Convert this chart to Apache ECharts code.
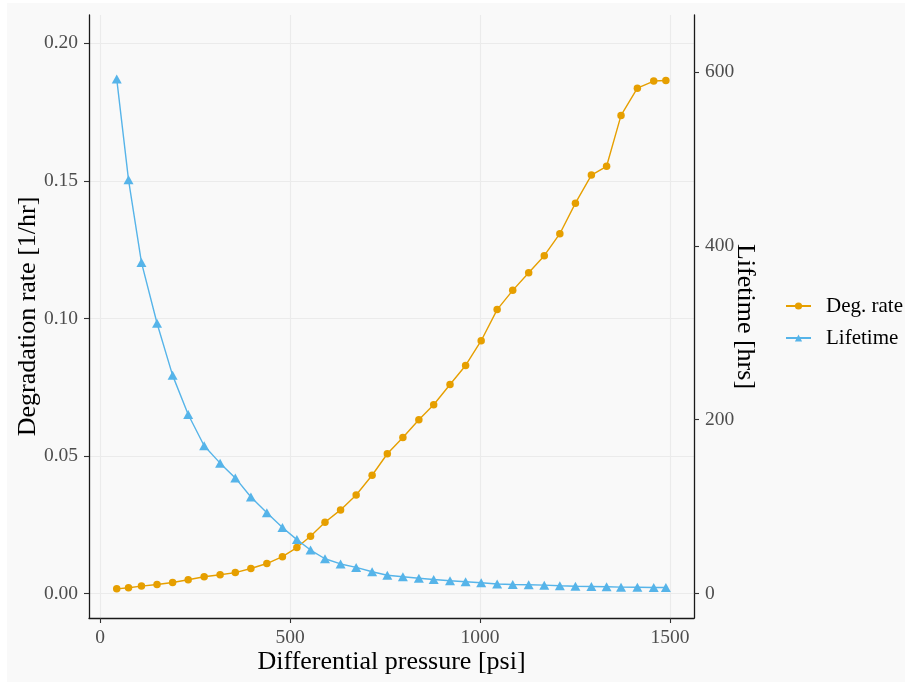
<!DOCTYPE html>
<html>
<head>
<meta charset="utf-8">
<script src="https://cdn.jsdelivr.net/npm/echarts@6/dist/echarts.min.js"></script>
<style>
  html, body { margin: 0; padding: 0; background: #ffffff; }
  #chart { position: absolute; left: 7px; top: 3px; width: 898px; height: 679px; }
</style>
</head>
<body>
<div id="chart"></div>
<script>
// Differential pressure [psi] at each measurement
const pressure = [44, 75, 109, 150, 191, 232, 274, 316, 356, 397, 439, 480, 518, 554, 592,
  633, 674, 716, 756, 797, 839, 878, 921, 962, 1003, 1045, 1086, 1128, 1169, 1210,
  1251, 1293, 1333, 1371, 1414, 1457, 1489];

// Degradation rate [1/hr]
const degRate = [0.0017, 0.0021, 0.0027, 0.0033, 0.0040, 0.0050, 0.0061, 0.0068, 0.0076,
  0.0091, 0.0109, 0.0134, 0.0167, 0.0208, 0.0259, 0.0304, 0.0358, 0.0430, 0.0508,
  0.0567, 0.0632, 0.0686, 0.0760, 0.0829, 0.0919, 0.1032, 0.1102, 0.1166, 0.1228,
  0.1308, 0.1419, 0.1521, 0.1553, 0.1738, 0.1837, 0.1863, 0.1865];

// Lifetime [hrs]
const lifetime = [592, 476, 381, 311, 251, 206, 170, 150, 133, 111, 93, 76, 62, 50, 40,
  34, 30, 25, 21, 19.2, 17.6, 16.1, 14.6, 13.5, 12.3, 10.9, 10.4, 10.0, 9.6, 8.9,
  8.4, 8.1, 7.8, 7.3, 7.2, 6.9, 6.9];

// Tick positions
const pressureTicks = [0, 500, 1000, 1500];
const rateTicks = [0, 0.05, 0.10, 0.15, 0.20];
const lifeTicks = [0, 200, 400, 600];

const seriesNames = ['Deg. rate', 'Lifetime'];
const seriesColors = ['#E69F00', '#56B4E9'];

const FONT = "'Liberation Serif', 'DejaVu Serif', serif";
const AXIS_COLOR = '#1a1a1a';
const TICK_COLOR = '#333333';
const LABEL_COLOR = '#4d4d4d';
const GRID_COLOR = '#ebebeb';

const chart = echarts.init(document.getElementById('chart'), null, { renderer: 'canvas' });

function axisBase() {
  return {
    type: 'value',
    axisLine: { show: true, onZero: false, lineStyle: { color: AXIS_COLOR, width: 1.3 } },
    axisTick: { show: true, length: 5, lineStyle: { color: TICK_COLOR, width: 1.1 } },
    axisLabel: { color: LABEL_COLOR, fontFamily: FONT, fontSize: 19.5, margin: 10, formatter: v => String(v) },
    splitLine: { show: true, lineStyle: { color: GRID_COLOR, width: 1.1 } },
    nameLocation: 'middle',
    nameMoveOverlap: false,
    nameTextStyle: { color: '#000000', fontFamily: FONT, fontSize: 26 }
  };
}

const xAxis = axisBase();
Object.assign(xAxis, {
  min: -29, max: 1563,
  name: 'Differential pressure [psi]',
  nameGap: 31
});
xAxis.axisTick.customValues = pressureTicks;
xAxis.axisLabel.customValues = pressureTicks;

const yLeft = axisBase();
Object.assign(yLeft, {
  position: 'left',
  min: -0.0089, max: 0.2103,
  name: 'Degradation rate [1/hr]',
  nameGap: 48
});
yLeft.axisTick.customValues = rateTicks;
yLeft.axisLabel.customValues = rateTicks;
yLeft.axisLabel.formatter = v => v.toFixed(2);
yLeft.axisLabel.margin = 11;

const yRight = axisBase();
Object.assign(yRight, {
  position: 'right',
  min: -28.2, max: 665.7,
  name: 'Lifetime [hrs]',
  nameGap: 38,
  nameRotate: -90
});
yRight.axisTick.customValues = lifeTicks;
yRight.axisLabel.customValues = lifeTicks;
yRight.axisLabel.margin = 11;
yRight.splitLine = { show: false };

chart.setOption({
  backgroundColor: '#f9f9f9',
  animation: false,
  grid: { left: 82, right: 211, top: 12, bottom: 64, containLabel: false, outerBoundsMode: 'none' },
  legend: {
    orient: 'vertical',
    left: 773, top: 287,
    itemWidth: 25, itemHeight: 9, itemGap: 10,
    data: seriesNames,
    textStyle: { fontFamily: FONT, fontSize: 21, color: '#000000', lineHeight: 22, padding: [0, 0, 0, 10] }
  },
  xAxis: xAxis,
  yAxis: [yLeft, yRight],
  series: [
    {
      name: seriesNames[0],
      type: 'line',
      yAxisIndex: 0,
      data: pressure.map((p, i) => [p, degRate[i]]),
      symbol: 'circle',
      symbolSize: 7.5,
      color: seriesColors[0],
      lineStyle: { color: seriesColors[0], width: 1.4 },
      itemStyle: { color: seriesColors[0] },
      z: 2
    },
    {
      name: seriesNames[1],
      type: 'line',
      yAxisIndex: 1,
      data: pressure.map((p, i) => [p, lifetime[i]]),
      symbol: 'triangle',
      symbolSize: [10, 9],
      color: seriesColors[1],
      lineStyle: { color: seriesColors[1], width: 1.4 },
      itemStyle: { color: seriesColors[1] },
      z: 3
    }
  ]
});
</script>
</body>
</html>
